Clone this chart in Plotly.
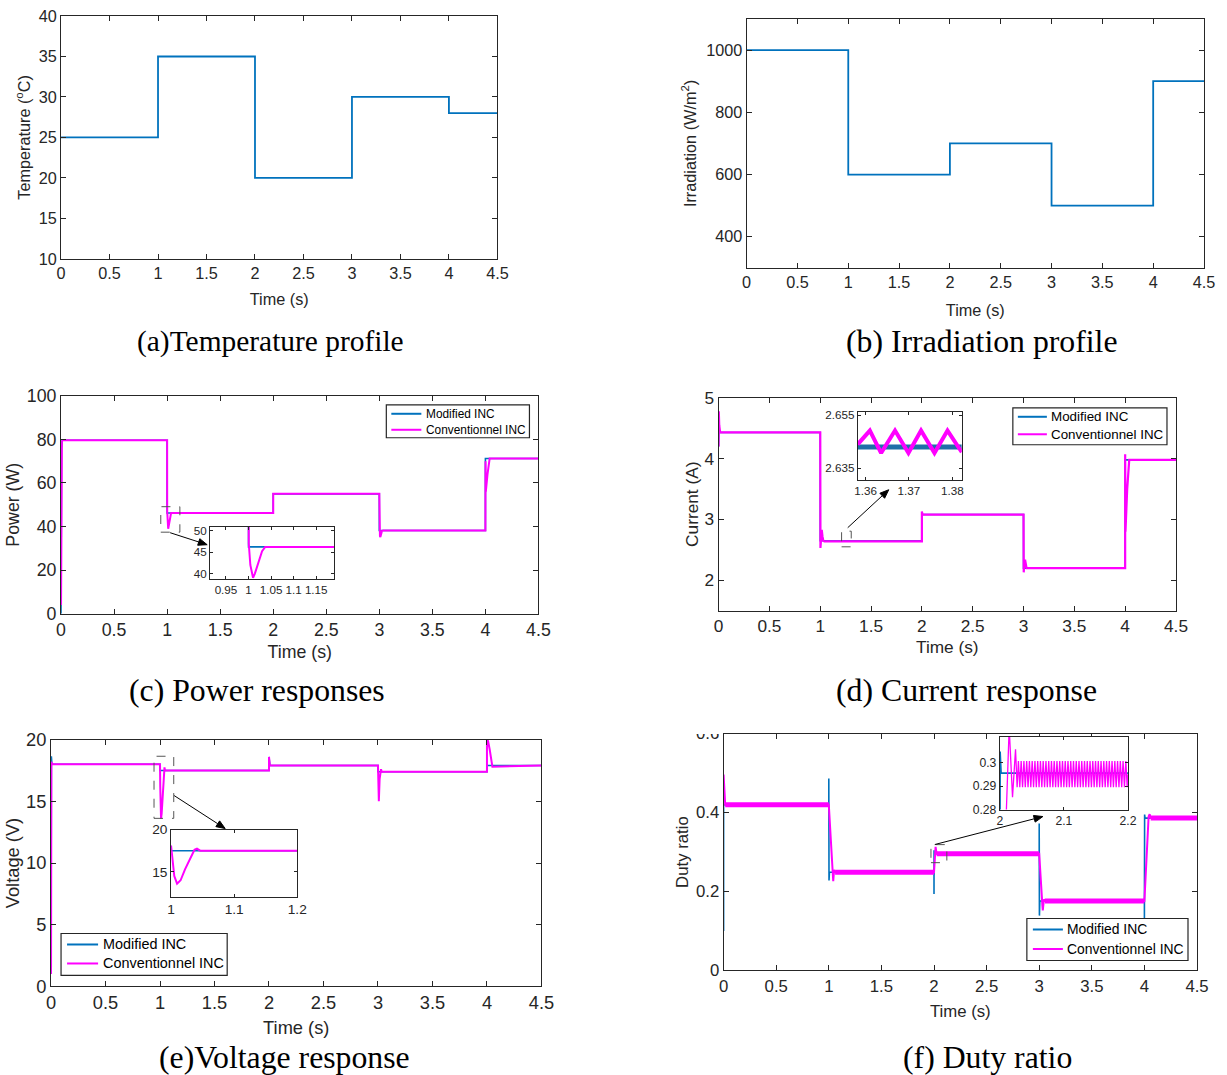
import math
import plotly.graph_objects as go

W, H = 1227, 1075
BLUE = "#0072BD"
MAG = "#FF00FF"
AX = "#262626"
SANS = "Liberation Sans, Arial, sans-serif"
SERIF = "Liberation Serif, Times New Roman, serif"

# ---------------- data ----------------
temp_t = [0, 1, 2, 3, 4, 4.5]
temp_v = [25, 35, 20, 30, 28, 28]

irr_t = [0, 1, 2, 3, 4, 4.5]
irr_v = [1000, 600, 700, 500, 900, 900]

power_mod_t = [0, 0.004, 0.012, 1.0, 1.0, 2.0, 2.0, 3.0, 3.0, 4.0, 4.0, 4.5]
power_mod_v = [0, 76, 79.6, 79.6, 46.2, 46.2, 55.0, 55.0, 38.2, 38.2, 71.2, 71.2]
power_conv_t = [0, 0.002, 0.008, 0.015, 1.0, 1.0005, 1.004, 1.008, 1.010, 1.014, 1.022,
                1.030, 1.037, 2.0, 2.0, 3.0, 3.001, 3.006, 3.010, 3.015, 3.025, 3.035,
                4.0, 4.001, 4.004, 4.02, 4.04, 4.5]
power_conv_v = [4, 60, 79, 79.6, 79.6, 47, 42, 39.3, 39.0, 40.0, 42.8,
                45.2, 46.2, 46.2, 55.0, 55.0, 40, 35.5, 35.2, 36.5, 38.0, 38.2,
                38.2, 70, 56, 64, 71.2, 71.2]

cur_mod_t = [0, 0.002, 0.01, 1.0, 1.0, 2.0, 2.0, 3.0, 3.0, 4.0, 4.0, 4.5]
cur_mod_v = [4.2, 4.45, 4.43, 4.43, 2.65, 2.65, 3.08, 3.08, 2.2, 2.2, 3.98, 3.98]
cur_conv_t = [0, 0.002, 0.006, 0.015, 1.0, 1.002, 1.008, 1.015, 1.022, 1.03, 1.04,
              2.0, 2.0, 2.006, 3.0, 3.002, 3.008, 3.015, 3.022, 3.03, 3.04,
              4.0, 4.0, 4.003, 4.02, 4.04, 4.5]
cur_conv_v = [4.2, 4.78, 4.55, 4.43, 4.43, 2.53, 2.8, 2.83, 2.72, 2.65, 2.64,
              2.64, 3.13, 3.08, 3.08, 2.13, 2.3, 2.34, 2.25, 2.2, 2.2,
              2.2, 4.07, 2.8, 3.5, 3.98, 3.98]
# zoomed current (inset of panel d)
cur_zoom_mod_t = [1.3582, 1.3822]
cur_zoom_mod_v = [2.6430, 2.6430]
cur_zoom_conv_t = [1.3582, 1.3610, 1.3636, 1.3668, 1.3699, 1.3728, 1.3759, 1.3789, 1.3822]
cur_zoom_conv_v = [2.6440, 2.6492, 2.6407, 2.6492, 2.6407, 2.6492, 2.6407, 2.6492, 2.6410]

volt_mod_t = [0, 0.003, 0.008, 1.0, 1.0, 2.0, 2.0, 2.008, 3.0, 3.0, 4.0, 4.0, 4.5]
volt_mod_v = [1, 18.65, 18.0, 18.0, 17.5, 17.5, 18.6, 17.9, 17.9, 17.4, 17.4, 17.9, 17.9]
volt_conv_t = [0, 0.003, 0.01, 1.0, 1.002, 1.005, 1.0094, 1.015, 1.022, 1.03, 1.037, 1.041,
               1.046, 2.0, 2.0, 2.008, 3.0, 3.003, 3.008, 3.015, 3.022, 3.028, 3.034,
               4.0, 4.0, 4.01, 4.025, 4.04, 4.05, 4.5]
volt_conv_v = [1, 18.2, 18.0, 18.0, 16.2, 14.5, 13.6, 14.0, 15.3, 16.6, 17.6, 17.75,
               17.5, 17.5, 18.6, 17.9, 17.9, 16.5, 15.0, 16.8, 17.4, 17.6, 17.4,
               17.4, 20.0, 19.9, 19.2, 18.2, 17.8, 17.9]

duty_mod_t = [0, 0.0, 0.003, 1.0, 1.0, 1.002, 1.006, 2.0, 2.0, 2.0005, 2.002, 3.0, 3.0,
              3.002, 3.006, 4.0, 4.0, 4.002, 4.006, 4.5]
duty_mod_v = [0.1, 0.42, 0.42, 0.42, 0.486, 0.228, 0.249, 0.249, 0.194, 0.3047, 0.2955,
              0.2955, 0.372, 0.139, 0.176, 0.176, 0.131, 0.395, 0.386, 0.386]
duty_conv_t = [0, 0.015, 1.0, 1.035, 1.042, 1.05, 1.06, 2.0, 2.015, 2.025, 3.0, 3.03,
               3.034, 3.045, 3.055, 4.0, 4.04, 4.05, 4.06, 4.5]
duty_conv_v = [0.496, 0.42, 0.42, 0.245, 0.226, 0.255, 0.249, 0.249, 0.313, 0.2955,
               0.2955, 0.165, 0.152, 0.18, 0.176, 0.176, 0.39, 0.396, 0.386, 0.386]
# ripple band of the conventional duty ratio (steady-state segments)
duty_band_t = [0.015, 1.0, None, 1.06, 2.0, None, 2.025, 3.0, None, 3.055, 4.0, None, 4.06, 4.5]
duty_band_v = [0.42, 0.42, None, 0.249, 0.249, None, 0.2955, 0.2955, None, 0.176, 0.176, None, 0.386, 0.386]
# zoomed duty ratio (inset of panel f), conventional INC
duty_zoom_conv_t = [2.0, 2.009, 2.0146, 2.0198, 2.0245, 2.027,
                    2.02900, 2.03115, 2.03330, 2.03545, 2.03760, 2.03975, 2.04190, 2.04405,
                    2.04620, 2.04835, 2.05050, 2.05265, 2.05480, 2.05695, 2.05910, 2.06125,
                    2.06340, 2.06555, 2.06770, 2.06985, 2.07200, 2.07415, 2.07630, 2.07845,
                    2.08060, 2.08275, 2.08490, 2.08705, 2.08920, 2.09135, 2.09350, 2.09565,
                    2.09780, 2.09995, 2.10210, 2.10425, 2.10640, 2.10855, 2.11070, 2.11285,
                    2.11500, 2.11715, 2.11930, 2.12145, 2.12360, 2.12575, 2.12790, 2.13005,
                    2.13220, 2.13435, 2.13650, 2.13865, 2.14080, 2.14295, 2.14510, 2.14725,
                    2.14940, 2.15155, 2.15370, 2.15585, 2.15800, 2.16015, 2.16230, 2.16445,
                    2.16660, 2.16875, 2.17090, 2.17305, 2.17520, 2.17735, 2.17950, 2.18165,
                    2.18380, 2.18595, 2.18810, 2.19025, 2.19240, 2.19455, 2.19670, 2.19885,
                    2.2]
duty_zoom_conv_v = [0.249, 0.27, 0.315, 0.2853, 0.3056, 0.2895] + [0.3006, 0.2895] * 40 + [0.2950]

# tick values
time_ticks = [0, 0.5, 1, 1.5, 2, 2.5, 3, 3.5, 4, 4.5]
series_names = ["Modified INC", "Conventionnel INC"]

# ---------------- layout helpers ----------------
# measured positions (in px of the reference) -> page coordinates (calibrated)
SX, OX = 0.9845, 5.0
SY, OY = 0.981, 10.0
FS = 1.015  # font calibration

def tx(x):
    return (x - OX) / SX

def ty(y):
    return (y - OY) / SY

def px(x):
    return tx(x) / W

def py(y):
    return 1 - ty(y) / H

def xdom(p0, p1):
    return [px(p0), px(p1)]

def ydom(p0, p1):
    return [py(p1), py(p0)]

layout = dict(width=W, height=H, margin=dict(l=0, r=0, t=0, b=0),
              paper_bgcolor="white", plot_bgcolor="white", showlegend=False)
traces = []

def make_axes(n, xpx, ypx, xr, yr, xt, yt, fs, xtitle=None, ytitle=None,
              xstand=10, ystand=6, tlen=5):
    fs = fs * FS
    xa = "xaxis" if n == 1 else f"xaxis{n}"
    ya = "yaxis" if n == 1 else f"yaxis{n}"
    xref = "x" if n == 1 else f"x{n}"
    yref = "y" if n == 1 else f"y{n}"
    common = dict(showline=True, linecolor=AX, linewidth=1, mirror="ticks", ticks="inside",
                  ticklen=tlen, tickcolor=AX, tickwidth=1, showgrid=False, zeroline=False,
                  tickfont=dict(family=SANS, size=fs, color=AX), fixedrange=True)
    layout[xa] = dict(common, domain=xdom(*xpx), range=xr, tickvals=xt, anchor=yref, tickangle=0)
    layout[ya] = dict(common, domain=ydom(*ypx), range=yr, tickvals=yt, anchor=xref)
    if xtitle:
        layout[xa]["title"] = dict(text=xtitle, font=dict(family=SANS, size=fs, color=AX),
                                   standoff=xstand)
    if ytitle:
        layout[ya]["title"] = dict(text=ytitle, font=dict(family=SANS, size=fs, color=AX),
                                   standoff=ystand)
    return xref, yref

def line(xs, ys, ax, color, width, name=None):
    traces.append(go.Scatter(x=xs, y=ys, mode="lines", line=dict(color=color, width=width),
                             xaxis=ax[0], yaxis=ax[1], showlegend=False, name=name,
                             hoverinfo="skip"))

# (a) temperature
axA = make_axes(1, (61, 497), (15, 258), [0, 4.5], [10, 40], time_ticks, [10, 15, 20, 25, 30, 35, 40],
                16, "Time (s)", "Temperature (<sup>o</sup>C)", xstand=12, ystand=4)
traces.append(go.Scatter(x=temp_t, y=temp_v, mode="lines", line=dict(color=BLUE, width=1.8, shape="hv"),
                         xaxis=axA[0], yaxis=axA[1], showlegend=False, hoverinfo="skip"))
# (b) irradiation
axB = make_axes(2, (746, 1203), (18, 267), [0, 4.5], [300, 1100], time_ticks, [400, 600, 800, 1000],
                16, "Time (s)", "Irradiation (W/m<sup>2</sup>)", xstand=14, ystand=5)
traces.append(go.Scatter(x=irr_t, y=irr_v, mode="lines", line=dict(color=BLUE, width=1.8, shape="hv"),
                         xaxis=axB[0], yaxis=axB[1], showlegend=False, hoverinfo="skip"))
# (c) power
axC = make_axes(3, (61, 538), (395, 613), [0, 4.5], [0, 100], time_ticks, [0, 20, 40, 60, 80, 100],
                17.5, "Time (s)", "Power (W)", xstand=6, ystand=2)
line(power_mod_t, power_mod_v, axC, BLUE, 1.6, series_names[0])
line(power_conv_t, power_conv_v, axC, MAG, 2, series_names[1])
# (d) current
axD = make_axes(4, (718, 1175), (397, 610), [0, 4.5], [1.5, 5], time_ticks, [2, 3, 4, 5],
                17, "Time (s)", "Current (A)", xstand=5, ystand=1)
line(cur_mod_t, cur_mod_v, axD, BLUE, 1.6, series_names[0])
line(cur_conv_t, cur_conv_v, axD, MAG, 2.2, series_names[1])
# (e) voltage
axE = make_axes(5, (51, 541), (739, 986), [0, 4.5], [0, 20], time_ticks, [0, 5, 10, 15, 20],
                18, "Time (s)", "Voltage (V)", xstand=8, ystand=1)
line(volt_mod_t, volt_mod_v, axE, BLUE, 1.6, series_names[0])
line(volt_conv_t, volt_conv_v, axE, MAG, 2, series_names[1])
# (f) duty ratio
axF = make_axes(6, (723, 1196), (733, 970), [0, 4.5], [0, 0.6], time_ticks, [0, 0.2, 0.4, 0.6],
                16.5, "Time (s)", "Duty ratio", xstand=10, ystand=3)
line(duty_mod_t, duty_mod_v, axF, BLUE, 1.6, series_names[0])
line(duty_conv_t, duty_conv_v, axF, MAG, 2, series_names[1])
line(duty_band_t, duty_band_v, axF, MAG, 5)

# insets
axCi = make_axes(7, (210, 334), (526, 578), [0.915, 1.19], [38.8, 50.9],
                 [0.95, 1, 1.05, 1.1, 1.15], [40, 45, 50], 11.5, tlen=3)
line(power_mod_t, power_mod_v, axCi, BLUE, 1.6)
line(power_conv_t, power_conv_v, axCi, MAG, 2)

axDi = make_axes(8, (857, 961), (411, 479), [1.3582, 1.3822], [2.6306, 2.6563],
                 [1.36, 1.37, 1.38], [2.635, 2.655], 11.5, tlen=3)
line(cur_zoom_mod_t, cur_zoom_mod_v, axDi, "#1F6FA8", 5)
line(cur_zoom_conv_t, cur_zoom_conv_v, axDi, MAG, 4)

axEi = make_axes(9, (171, 297), (829, 896), [1, 1.2], [12.08, 20],
                 [1, 1.1, 1.2], [15, 20], 13.5, tlen=3)
line(volt_mod_t, volt_mod_v, axEi, BLUE, 1.6)
line(volt_conv_t, volt_conv_v, axEi, MAG, 2)

axFi = make_axes(10, (999, 1127), (736, 809), [2, 2.2], [0.28, 0.311],
                 [2, 2.1, 2.2], [0.28, 0.29, 0.3], 12, tlen=3)
line(duty_mod_t, duty_mod_v, axFi, BLUE, 1.6)
line(duty_zoom_conv_t, duty_zoom_conv_v, axFi, MAG, 1.3)

shapes = []
annotations = []

# legend boxes (MATLAB style)
def legend_box(box, rows, sample, text_x, fs):
    x0, x1, y0, y1 = box
    shapes.append(dict(type="rect", xref="paper", yref="paper", x0=px(x0), x1=px(x1),
                       y0=py(y1), y1=py(y0), fillcolor="white",
                       line=dict(color=AX, width=1.2), layer="above"))
    for name, color, ry in zip(series_names, [BLUE, MAG], rows):
        shapes.append(dict(type="line", xref="paper", yref="paper", x0=px(sample[0]),
                           x1=px(sample[1]), y0=py(ry), y1=py(ry),
                           line=dict(color=color, width=2), layer="above"))
        annotations.append(dict(x=px(text_x), y=py(ry), xref="paper", yref="paper", text=name,
                                showarrow=False, xanchor="left", yanchor="middle",
                                font=dict(family=SANS, size=fs * FS, color="black")))

legend_box((386, 529, 404, 437), (413, 429), (391, 421), 424, 11.7)
legend_box((1012, 1166, 407, 444), (416, 433.5), (1017, 1046), 1048, 13.2)
legend_box((61, 227, 933, 975), (944, 963), (67, 98), 101, 14.2)
legend_box((1026, 1187, 918, 960), (929, 948.5), (1032, 1062), 1064, 13.7)

# dashed zoom boxes
def dbox(ax, x0, x1, y0, y1):
    shapes.append(dict(type="rect", xref=ax[0], yref=ax[1], x0=x0, x1=x1, y0=y0, y1=y1,
                       line=dict(color="#555555", width=1, dash="dash"), layer="above"))
dbox(axC, 0.94, 1.12, 37.4, 49.1)
dbox(axD, 1.21, 1.305, 2.55, 2.807)
dbox(axE, 0.945, 1.126, 13.62, 18.65)
dbox(axF, 1.971, 2.122, 0.2731, 0.3188)

# clipped top of the duty-ratio figure
shapes.append(dict(type="rect", xref="paper", yref="paper", x0=px(680), x1=px(721),
                   y0=py(733.5), y1=py(700), fillcolor="white",
                   line=dict(width=0), layer="above"))

# arrows from zoom boxes to insets
def arrow(tail, tip, head_len=9, head_w=7):
    tail = (tx(tail[0]), ty(tail[1]))
    tip = (tx(tip[0]), ty(tip[1]))
    dx, dy = tip[0] - tail[0], tip[1] - tail[1]
    L = math.hypot(dx, dy)
    ux, uy = dx / L, dy / L
    bx, by = tip[0] - ux * head_len, tip[1] - uy * head_len
    p1 = (bx - uy * head_w / 2, by + ux * head_w / 2)
    p2 = (bx + uy * head_w / 2, by - ux * head_w / 2)
    fx = lambda v: v / W
    fy = lambda v: 1 - v / H
    shapes.append(dict(type="line", xref="paper", yref="paper", x0=fx(tail[0]), y0=fy(tail[1]),
                       x1=fx(bx), y1=fy(by), line=dict(color="black", width=1), layer="above"))
    path = (f"M {fx(tip[0])},{fy(tip[1])} L {fx(p1[0])},{fy(p1[1])} "
            f"L {fx(p2[0])},{fy(p2[1])} Z")
    shapes.append(dict(type="path", xref="paper", yref="paper", path=path,
                       fillcolor="black", line=dict(color="black", width=1), layer="above"))

arrow((170, 532), (207, 544))
arrow((847, 527), (888, 489))
arrow((174, 795), (225, 828))
arrow((934, 844), (1042, 816))

# captions (text, centre x, centre y, font size)
captions = [("(a)Temperature profile", 270, 341, 29), ("(b) Irradiation profile", 981, 341, 31.3),
            ("(c) Power responses", 257, 690, 31.3), ("(d) Current response", 966, 690, 31.3),
            ("(e)Voltage response", 284, 1057, 31.3), ("(f) Duty ratio", 987, 1057, 31.3)]
for txt, cx, cy, fsz in captions:
    annotations.append(dict(x=px(cx), y=py(cy), xref="paper", yref="paper", text=txt,
                            showarrow=False, xanchor="center", yanchor="middle",
                            font=dict(family=SERIF, size=fsz * FS, color="black")))

layout["shapes"] = shapes
layout["annotations"] = annotations

fig = go.Figure(data=traces, layout=layout)
fig.write_html("out.html", config={"displayModeBar": False},
               post_script="document.body.style.margin='0';document.body.style.overflow='hidden';")
